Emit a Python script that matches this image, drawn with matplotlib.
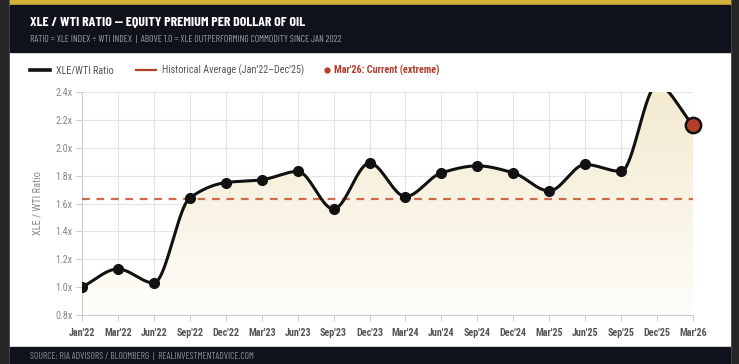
import numpy as np
import matplotlib
matplotlib.use("Agg")
import matplotlib.pyplot as plt
from matplotlib.patches import Rectangle, Polygon
from matplotlib.lines import Line2D

categories = ["Jan'22", "Mar'22", "Jun'22", "Sep'22", "Dec'22", "Mar'23", "Jun'23", "Sep'23",
              "Dec'23", "Mar'24", "Jun'24", "Sep'24", "Dec'24", "Mar'25", "Jun'25", "Sep'25",
              "Dec'25", "Mar'26"]
ratio = [1.00, 1.13, 1.03, 1.64, 1.75, 1.77, 1.83, 1.56, 1.89, 1.65, 1.82, 1.87, 1.82, 1.69,
         1.88, 1.83, 2.45, 2.16]
hist_avg = 1.635
yticks = [0.8, 1.0, 1.2, 1.4, 1.6, 1.8, 2.0, 2.2, 2.4]
ytick_labels = ["0.8x", "1.0x", "1.2x", "1.4x", "1.6x", "1.8x", "2.0x", "2.2x", "2.4x"]

W, H = 739, 364
fig = plt.figure(figsize=(W / 100, H / 100), dpi=100, facecolor="#262626")

def px(x, y, w, h, color):
    fig.patches.append(Rectangle((x / W, 1 - (y + h) / H), w / W, h / H,
                                 transform=fig.transFigure, color=color, zorder=-5))

px(10, 0, 720, 364, "white")
px(10, 0, 720, 5, "#d4af37")
px(10, 5, 720, 47, "#0f121a")
px(10, 347, 720, 17, "#0f121a")

narrow = ["Roboto Condensed", "Fira Sans Extra Condensed", "Archivo Narrow", "DejaVu Sans"]
header = ["Barlow Condensed", "Fira Sans Extra Condensed", "Roboto Condensed", "DejaVu Sans"]

fig.text(30 / W, 1 - 22 / H, "XLE / WTI RATIO — EQUITY PREMIUM PER DOLLAR OF OIL",
         color="white", fontsize=10, fontweight="bold", family=header, va="center")
fig.text(30 / W, 1 - 39.5 / H,
         "RATIO = XLE INDEX ÷ WTI INDEX  |  ABOVE 1.0 = XLE OUTPERFORMING COMMODITY SINCE JAN 2022",
         color="#9aa0a8", fontsize=6.9, family=header, va="center")
fig.text(30 / W, 1 - 356 / H, "SOURCE: RIA ADVISORS / BLOOMBERG  |  REALINVESTMENTADVICE.COM",
         color="#8a9099", fontsize=6.9, family=header, va="center")

# legend
ly = 1 - 70 / H
fig.add_artist(Line2D([30 / W, 50 / W], [ly, ly], color="#111111", lw=2.6, transform=fig.transFigure))
fig.text(56 / W, ly, "XLE/WTI Ratio", color="#555555", fontsize=7.3, family=narrow, va="center")
fig.add_artist(Line2D([136 / W, 156 / W], [ly, ly], color="#b5402a", lw=1.6, transform=fig.transFigure))
fig.text(162 / W, ly, "Historical Average (Jan'22–Dec'25)", color="#555555", fontsize=7.3,
         family=narrow, va="center")
fig.add_artist(Line2D([327 / W], [ly], marker="o", ms=3.5, color="#b5402a", transform=fig.transFigure))
fig.text(334 / W, ly, "Mar'26: Current (extreme)", color="#b03a2a", fontsize=7.3,
         fontweight="bold", family=narrow, va="center")

ax = fig.add_axes([82 / W, 1 - 315 / H, (693 - 82) / W, (315 - 92) / H], zorder=2)
ax.set_facecolor("none")
n = len(categories)
xs = np.arange(n)
ys = np.array(ratio)

# monotone cubic (Fritsch-Carlson) for smooth curve
def monotone(x, y, num=40):
    h = np.diff(x)
    d = np.diff(y) / h
    m = np.zeros_like(y)
    m[0], m[-1] = d[0], d[-1]
    for i in range(1, len(y) - 1):
        if d[i - 1] * d[i] <= 0:
            m[i] = 0
        else:
            m[i] = 3 * (h[i - 1] + h[i]) / ((2 * h[i] + h[i - 1]) / d[i - 1] + (h[i] + 2 * h[i - 1]) / d[i])
    X, Y = [], []
    for i in range(len(x) - 1):
        t = np.linspace(0, 1, num, endpoint=False)
        h00 = 2 * t**3 - 3 * t**2 + 1
        h10 = t**3 - 2 * t**2 + t
        h01 = -2 * t**3 + 3 * t**2
        h11 = t**3 - t**2
        X.append(x[i] + t * h[i])
        Y.append(h00 * y[i] + h10 * h[i] * m[i] + h01 * y[i + 1] + h11 * h[i] * m[i + 1])
    X.append([x[-1]]); Y.append([y[-1]])
    return np.concatenate(X), np.concatenate(Y)

sx, sy = monotone(xs.astype(float), ys)

ax.set_xlim(0, n - 1)
ax.set_ylim(0.8, 2.4)

# gradient fill
grad = np.linspace(0, 1, 256).reshape(-1, 1)
top = np.array(matplotlib.colors.to_rgb("#f3ead0"))
bot = np.array(matplotlib.colors.to_rgb("#fefdf9"))
img = bot + (top - bot) * grad[:, :, None] * np.ones((1, 1, 3))
im = ax.imshow(img, extent=[0, n - 1, 0.8, 2.4], origin="lower", aspect="auto", zorder=1)
poly = Polygon(np.column_stack([np.r_[sx, sx[-1], sx[0]], np.r_[sy, 0.8, 0.8]]),
               closed=True, transform=ax.transData, facecolor="none", edgecolor="none")
ax.add_patch(poly)
im.set_clip_path(poly)

ax.set_xticks(xs)
ax.set_xticklabels(categories)
ax.set_yticks(yticks)
ax.set_yticklabels(ytick_labels)
ax.grid(True, color="#e4e4e4", lw=0.8, zorder=0)
ax.set_axisbelow(True)
for s in ["top", "right"]:
    ax.spines[s].set_visible(False)
ax.spines["left"].set_color("#cccccc")
ax.spines["bottom"].set_color("#cccccc")
ax.tick_params(axis="x", colors="#cccccc", length=4, width=0.8, pad=5)
ax.tick_params(axis="y", colors="#cccccc", length=4, width=0.8, pad=3)
for lab in ax.get_xticklabels():
    lab.set_color("#555555"); lab.set_fontsize(7.3); lab.set_fontweight("bold"); lab.set_family(narrow)
for lab in ax.get_yticklabels():
    lab.set_color("#888888"); lab.set_fontsize(7.3); lab.set_family(narrow)
ax.set_ylabel("XLE / WTI Ratio", color="#888888", fontsize=7.5, family=narrow, labelpad=9)

ax.axhline(hist_avg, color="#cf6a4f", lw=1.6, ls=(0, (3.5, 3)), zorder=3)
ax.plot(sx, sy, color="#111111", lw=2.2, zorder=4, solid_capstyle="round")
ax.plot(xs[:-1], ys[:-1], "o", color="#111111", ms=7, zorder=5)
ax.plot(xs[-1], ys[-1], "o", ms=11, markerfacecolor="#b5402a", markeredgecolor="#111111",
        markeredgewidth=1.8, zorder=6, clip_on=False)

fig.savefig("out.png", dpi=100, facecolor=fig.get_facecolor())
